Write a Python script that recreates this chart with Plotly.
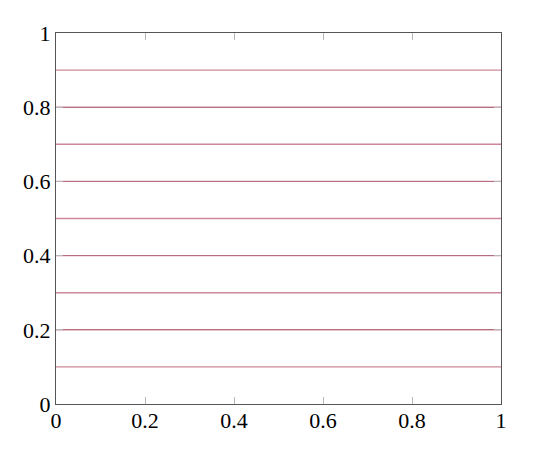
import plotly.graph_objects as go

x_range = [0, 1]
levels = [0.1, 0.2, 0.3, 0.4, 0.5, 0.6, 0.7, 0.8, 0.9]
tick_vals = [0, 0.2, 0.4, 0.6, 0.8, 1]
tick_text = ["0", "0.2", "0.4", "0.6", "0.8", "1"]

fig = go.Figure()
for lv in levels:
    fig.add_trace(go.Scatter(x=x_range, y=[lv, lv], mode="lines",
                             line=dict(color="rgba(185,85,110,0.7)", width=1.4),
                             showlegend=False, hoverinfo="skip"))

axis_common = dict(
    range=[0, 1], tickvals=tick_vals, ticktext=tick_text,
    ticks="inside", ticklen=7, tickcolor="rgb(185,185,185)", tickwidth=1,
    showline=True, linecolor="rgb(85,85,85)", linewidth=1.3, mirror="ticks",
    showgrid=False, zeroline=False,
    tickfont=dict(family="Liberation Serif, DejaVu Serif, serif", size=22, color="black"),
)

fig.update_layout(
    width=532, height=444,
    margin=dict(l=48, r=39, t=25, b=48),
    paper_bgcolor="white", plot_bgcolor="white",
    xaxis=dict(**axis_common, ticklabelstandoff=-4),
    yaxis=dict(**axis_common, ticklabelstandoff=0),
)
fig.update_yaxes(showgrid=True, gridcolor="rgba(110,110,110,0.6)", gridwidth=1)

fig.write_html("out.html")
